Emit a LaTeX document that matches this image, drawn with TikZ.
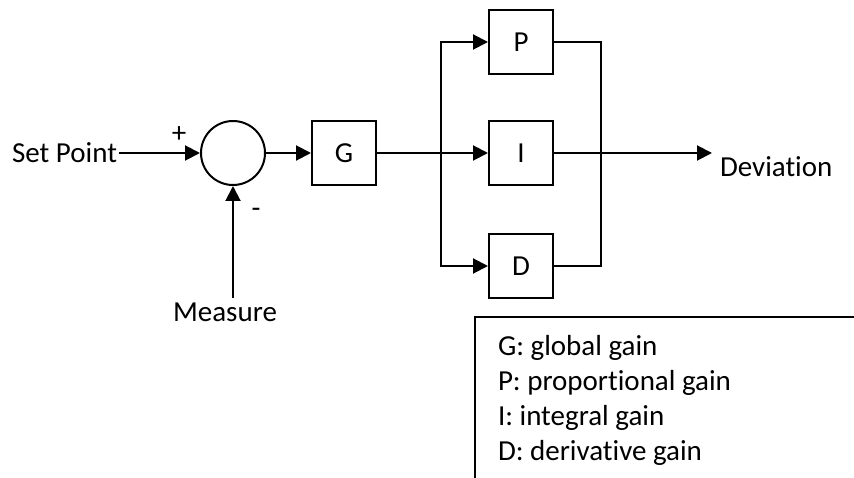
\documentclass[tikz,border=0pt]{standalone}
\usepackage{fontspec}
\setmainfont[Ligatures=NoCommon]{Carlito}
\usetikzlibrary{arrows.meta}
\begin{document}
\begin{tikzpicture}[x=1pt,y=-1pt,
  line width=2pt,
  lbl/.style={font=\fontsize{29}{34}\selectfont, inner sep=1pt},
  blk/.style={draw, line width=2pt, minimum width=64pt, minimum height=64pt, inner sep=0pt, font=\fontsize{29}{34}\selectfont},
  sumnode/.style={draw, circle, line width=2pt, minimum size=64pt, inner sep=0pt},
  arr/.style={-{Triangle[length=15pt,width=15pt]}}
]
\useasboundingbox (0,0) rectangle (854,478);
% nodes
\node[lbl, anchor=east] (sp) at (119,153) {Set Point};
\node[sumnode] (sum) at (233,153) {};
\node[blk] (G) at (344,153) {G};
\node[blk] (P) at (521,42) {P};
\node[blk] (I) at (521,153) {I};
\node[blk] (D) at (521,266) {D};
\node[lbl] (plus) at (179,135) {+};
\node[lbl] (minus) at (256,213) {-};
\node[lbl] (meas) at (225,312) {Measure};
\node[lbl, anchor=west] (dev) at (718,167) {Deviation};
\coordinate (split) at (441,153);
\coordinate (join) at (601,153);
\coordinate (ms) at (233,298);
\coordinate (devtip) at (712,153);
% connectors
\draw[arr] (sp.east) -- (sum.west);
\draw[arr] (ms) -- (sum.south);
\draw[arr] (sum.east) -- (G.west);
\draw[arr] (G.east) -- (I.west);
\draw[arr] (split) |- (P.west);
\draw[arr] (split) |- (D.west);
\draw (P.east) -| (join);
\draw (D.east) -| (join);
\draw[arr] (I.east) -- (devtip);
% legend
\draw (854,317) -- (475,317) -- (475,478);
\node[lbl, anchor=west] (lg) at (496,348) {G: global gain};
\node[lbl, anchor=west] (lp) at (496,383) {P: proportional gain};
\node[lbl, anchor=west] (li) at (496,418) {I: integral gain};
\node[lbl, anchor=west] (ld) at (496,453) {D: derivative gain};
\end{tikzpicture}
\end{document}
